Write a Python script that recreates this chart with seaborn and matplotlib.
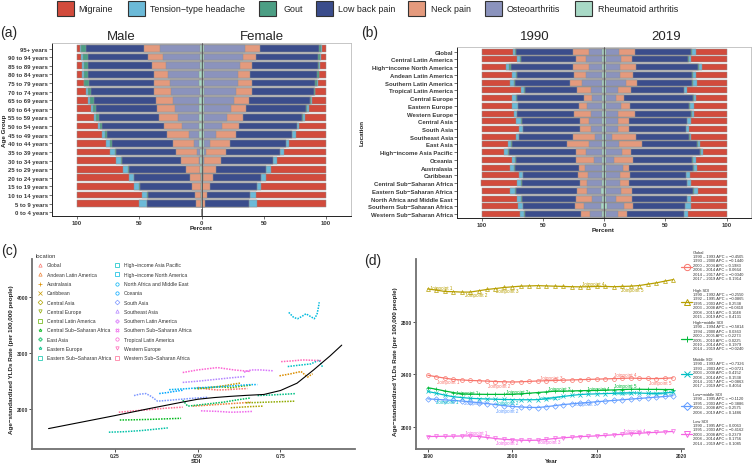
import numpy as np
import matplotlib
matplotlib.use("Agg")
import matplotlib.pyplot as plt
import seaborn as sns
from matplotlib.patches import Rectangle

sns.set_theme(style="white")
plt.rcParams['font.family'] = ['Liberation Sans', 'DejaVu Sans']

# ---------------- data ----------------
causes = ["Migraine", "Tension\u2212type headache", "Gout", "Low back pain",
          "Neck pain", "Osteoarthritis", "Rheumatoid arthritis"]
cause_colors = ["#D24B3C", "#6CBAD8", "#4C9E84", "#3B4D8C", "#E49A7D", "#8B93BD", "#A8D9C6"]

ages = ["95+ years", "90 to 94 years", "85 to 89 years", "80 to 84 years", "75 to 79 years",
        "70 to 74 years", "65 to 69 years", "60 to 64 years", "55 to 59 years", "50 to 54 years",
        "45 to 49 years", "40 to 44 years", "35 to 39 years", "30 to 34 years", "25 to 29 years",
        "20 to 24 years", "15 to 19 years", "10 to 14 years", "5 to 9 years", "0 to 4 years"]

# percent share per cause (order of `causes`), one row per age group
male_pct = [
    [2.5, 0.5, 4.5, 46.5, 13.0, 31.5, 1.5],
    [3.5, 1.0, 4.0, 48.7, 11.8, 29.5, 1.5],
    [4.0, 1.3, 3.2, 52.0, 10.7, 27.3, 1.5],
    [4.3, 1.1, 3.2, 53.5, 11.0, 25.2, 1.7],
    [5.4, 0.5, 3.5, 52.7, 12.3, 23.9, 1.7],
    [7.0, 1.6, 2.7, 50.9, 13.4, 22.8, 1.6],
    [8.6, 1.6, 3.2, 49.8, 13.6, 21.2, 2.0],
    [11.2, 1.6, 2.7, 48.8, 14.1, 19.6, 2.0],
    [13.9, 1.6, 2.4, 48.2, 14.8, 17.1, 2.0],
    [16.6, 2.1, 1.6, 49.3, 14.9, 13.8, 1.7],
    [20.1, 2.7, 1.3, 48.2, 17.4, 8.6, 1.7],
    [23.6, 3.2, 1.3, 48.7, 16.9, 4.6, 1.7],
    [26.8, 4.0, 0.8, 48.2, 16.6, 2.0, 1.6],
    [31.6, 3.7, 1.1, 47.4, 14.5, 0.4, 1.3],
    [36.9, 3.8, 0.8, 46.1, 11.2, 0.2, 1.0],
    [41.8, 3.7, 0.6, 44.4, 8.7, 0.0, 0.8],
    [46.1, 3.7, 0.5, 42.1, 7.1, 0.0, 0.5],
    [52.2, 4.3, 0.2, 38.3, 4.8, 0.0, 0.2],
    [49.5, 6.7, 0.0, 39.6, 4.0, 0.0, 0.2],
    [0, 0, 0, 0, 0, 0, 0],
]
female_pct = [
    [3.1, 0.7, 2.0, 47.4, 11.5, 33.4, 1.9],
    [4.2, 0.6, 1.8, 49.8, 10.1, 31.6, 1.9],
    [5.0, 0.5, 1.1, 52.7, 9.4, 29.4, 1.9],
    [5.5, 0.5, 1.1, 53.6, 10.1, 27.3, 1.9],
    [6.6, 0.7, 1.2, 51.3, 11.0, 27.3, 1.9],
    [8.5, 0.7, 0.6, 50.0, 12.9, 25.4, 1.9],
    [11.1, 1.3, 0.6, 48.7, 12.3, 24.1, 1.9],
    [13.8, 1.6, 0.5, 48.0, 12.8, 21.4, 1.9],
    [17.3, 1.5, 0.4, 47.3, 13.4, 18.2, 1.9],
    [21.6, 1.8, 0.3, 45.8, 13.9, 14.7, 1.9],
    [24.5, 2.5, 0.2, 45.5, 15.3, 10.1, 1.9],
    [29.9, 2.5, 0.1, 44.8, 15.5, 5.3, 1.9],
    [33.9, 3.1, 0.1, 43.6, 15.3, 2.1, 1.9],
    [39.2, 3.1, 0.1, 42.3, 13.3, 0.5, 1.5],
    [44.6, 3.9, 0.1, 39.4, 10.6, 0.2, 1.2],
    [48.6, 4.0, 0.0, 38.3, 8.0, 0.1, 1.0],
    [52.1, 3.7, 0.0, 37.5, 6.1, 0.0, 0.6],
    [56.6, 4.1, 0.0, 34.8, 4.2, 0.0, 0.3],
    [55.3, 6.7, 0.0, 34.8, 3.1, 0.0, 0.1],
    [0, 0, 0, 0, 0, 0, 0],
]

regions = ["Global", "Central Latin America", "High\u2212income North America", "Andean Latin America",
           "Southern Latin America", "Tropical Latin America", "Central Europe", "Eastern Europe",
           "Western Europe", "Central Asia", "South Asia", "Southeast Asia", "East Asia",
           "High\u2212income Asia Pacific", "Oceania", "Australasia", "Caribbean",
           "Central Sub\u2212Saharan Africa", "Eastern Sub\u2212Saharan Africa", "North Africa and Middle East",
           "Southern Sub\u2212Saharan Africa", "Western Sub\u2212Saharan Africa"]
pct_1990 = [
    [25.9, 1.8, 0.3, 46.8, 12.8, 11.0, 1.4],
    [28.6, 2.9, 0.4, 44.9, 8.2, 13.0, 2.0],
    [20.4, 2.3, 1.0, 50.6, 13.3, 10.4, 2.0],
    [24.5, 3.7, 0.4, 46.8, 9.6, 13.3, 1.7],
    [23.1, 3.6, 0.5, 45.1, 9.7, 16.6, 1.4],
    [31.9, 3.1, 0.4, 42.8, 10.8, 9.6, 1.4],
    [24.5, 3.6, 0.5, 55.0, 6.8, 8.2, 1.4],
    [24.5, 5.0, 0.4, 49.6, 6.3, 12.8, 1.4],
    [26.4, 2.2, 0.5, 46.3, 13.6, 9.6, 1.4],
    [28.0, 4.3, 0.4, 47.7, 7.2, 11.0, 1.4],
    [30.7, 3.0, 0.3, 46.4, 8.6, 9.6, 1.4],
    [28.0, 2.4, 0.3, 43.6, 18.7, 5.6, 1.4],
    [21.8, 2.3, 0.4, 44.9, 18.2, 11.0, 1.4],
    [18.5, 3.2, 0.9, 54.2, 8.2, 13.6, 1.4],
    [25.0, 2.6, 0.4, 48.8, 15.0, 6.8, 1.4],
    [23.1, 3.3, 0.8, 52.3, 4.7, 14.4, 1.4],
    [30.7, 2.9, 0.4, 44.7, 8.1, 11.8, 1.4],
    [28.6, 3.7, 0.4, 47.7, 5.9, 12.3, 1.4],
    [23.1, 4.5, 0.4, 49.6, 8.2, 11.4, 2.8],
    [29.1, 3.2, 0.4, 44.1, 13.6, 8.2, 1.4],
    [29.9, 3.7, 0.4, 42.0, 7.6, 13.6, 2.8],
    [31.3, 3.7, 0.4, 45.5, 7.6, 10.1, 1.4],
]
pct_2019 = [
    [25.1, 3.1, 0.4, 46.3, 12.8, 10.9, 1.4],
    [28.6, 2.4, 0.4, 45.4, 9.6, 12.2, 1.4],
    [19.6, 2.6, 1.0, 50.9, 12.8, 11.7, 1.4],
    [25.1, 2.3, 0.4, 48.2, 10.9, 11.7, 1.4],
    [23.7, 3.6, 0.5, 44.9, 9.5, 16.4, 1.4],
    [32.4, 2.3, 0.4, 43.1, 10.3, 10.1, 1.4],
    [25.1, 1.4, 0.5, 56.6, 6.8, 8.2, 1.4],
    [26.4, 3.7, 0.4, 48.2, 7.7, 12.2, 1.4],
    [26.4, 1.7, 0.5, 46.3, 13.6, 10.1, 1.4],
    [28.6, 3.4, 0.4, 47.2, 8.9, 10.1, 1.4],
    [30.5, 2.4, 0.3, 46.4, 8.9, 10.1, 1.4],
    [28.6, 1.6, 0.3, 43.6, 19.0, 5.5, 1.4],
    [21.6, 1.7, 0.4, 44.9, 19.1, 10.9, 1.4],
    [18.8, 1.9, 0.9, 56.0, 7.4, 13.6, 1.4],
    [25.1, 2.3, 0.4, 48.2, 15.8, 6.8, 1.4],
    [23.7, 2.5, 0.8, 52.6, 4.6, 14.4, 1.4],
    [29.7, 3.1, 0.4, 45.5, 8.2, 11.7, 1.4],
    [28.6, 3.4, 0.4, 47.2, 7.3, 11.7, 1.4],
    [23.2, 3.4, 0.4, 49.8, 9.6, 12.2, 1.4],
    [29.1, 2.9, 0.4, 44.4, 13.6, 8.2, 1.4],
    [29.1, 4.6, 0.4, 41.9, 7.6, 13.7, 2.7],
    [31.4, 3.3, 0.4, 46.3, 7.1, 10.1, 1.4],
]

# panel (c): SDI vs age-standardised YLD rate
sdi_locations = ["Global", "Andean Latin America", "Australasia", "Caribbean", "Central Asia",
                 "Central Europe", "Central Latin America", "Central Sub\u2212Saharan Africa", "East Asia",
                 "Eastern Europe", "Eastern Sub\u2212Saharan Africa", "High\u2212income Asia Pacific",
                 "High\u2212income North America", "North Africa and Middle East", "Oceania", "South Asia",
                 "Southeast Asia", "Southern Latin America", "Southern Sub\u2212Saharan Africa",
                 "Tropical Latin America", "Western Europe", "Western Sub\u2212Saharan Africa"]
loc_sdi = [
    [0.50, 0.53, 0.56, 0.59, 0.62, 0.65],
    [0.485, 0.53, 0.58, 0.62, 0.661],
    [0.747, 0.78, 0.812, 0.832, 0.847],
    [0.50, 0.54, 0.58, 0.61, 0.63],
    [0.60, 0.63, 0.66, 0.696],
    [0.646, 0.69, 0.74, 0.792],
    [0.49, 0.53, 0.57, 0.60, 0.63, 0.66],
    [0.265, 0.30, 0.35, 0.40, 0.45],
    [0.455, 0.47, 0.52, 0.58, 0.62, 0.661],
    [0.681, 0.72, 0.76, 0.797],
    [0.232, 0.28, 0.33, 0.37, 0.41],
    [0.772, 0.80, 0.842, 0.867, 0.877],
    [0.775, 0.79, 0.802, 0.815, 0.827, 0.84, 0.852, 0.86, 0.864, 0.867],
    [0.414, 0.46, 0.51, 0.56, 0.61, 0.661, 0.68],
    [0.384, 0.41, 0.43, 0.455],
    [0.308, 0.325, 0.344, 0.36, 0.379, 0.42, 0.47, 0.53],
    [0.455, 0.50, 0.55, 0.60, 0.645],
    [0.64, 0.661, 0.69, 0.727],
    [0.51, 0.56, 0.60, 0.63, 0.666],
    [0.455, 0.50, 0.56, 0.61, 0.661],
    [0.752, 0.785, 0.817, 0.85, 0.873],
    [0.262, 0.30, 0.35, 0.40, 0.455],
]
loc_rate = [
    [2390, 2360, 2345, 2350, 2362, 2370],
    [2058, 2075, 2095, 2110, 2128],
    [2596, 2630, 2672, 2574, 2632],
    [2362, 2390, 2420, 2450, 2468],
    [2029, 2040, 2050, 2058],
    [2117, 2125, 2135, 2146],
    [2370, 2385, 2400, 2385, 2410, 2430],
    [1812, 1815, 1822, 1832, 1842],
    [2163, 2058, 2090, 2130, 2170, 2204],
    [2246, 2255, 2268, 2281],
    [1596, 1605, 1625, 1648, 1672],
    [2760, 2780, 2807, 2877, 2749],
    [3720, 3630, 3608, 3650, 3696, 3650, 3608, 3680, 3790, 3900],
    [2350, 2365, 2385, 2400, 2420, 2440, 2440],
    [2281, 2300, 2320, 2340],
    [2245, 2270, 2281, 2230, 2146, 2165, 2190, 2215],
    [2479, 2500, 2530, 2560, 2584],
    [2660, 2700, 2700, 2685],
    [1975, 1965, 1950, 1955, 1965],
    [2654, 2700, 2742, 2700, 2672],
    [2847, 2860, 2877, 2870, 2865],
    [1950, 1970, 1995, 2020, 2040],
]
curve_sdi = [0.05, 0.15, 0.25, 0.35, 0.45, 0.50, 0.55, 0.60, 0.65, 0.70, 0.75, 0.80, 0.85, 0.90, 0.935]
curve_rate = [1660, 1775, 1890, 2010, 2125, 2180, 2210, 2232, 2250, 2265, 2335, 2465, 2700, 2950, 3140]

# panel (d): joinpoint trends by SDI quintile
years = list(range(1990, 2020))
sdi_groups = ["Global", "High SDI", "High\u2212middle SDI", "Middle SDI", "Low\u2212middle SDI", "Low SDI"]
rate_global = [2392, 2380, 2370, 2360, 2356, 2352, 2350, 2347, 2344, 2342, 2340, 2342, 2345, 2348, 2350,
               2352, 2354, 2356, 2358, 2360, 2362, 2364, 2366, 2368, 2370, 2368, 2367, 2366, 2368, 2372]
rate_high = [3049, 3040, 3030, 3028, 3025, 3025, 3035, 3045, 3052, 3060, 3065, 3070, 3072, 3074, 3072,
             3070, 3068, 3066, 3065, 3066, 3068, 3068, 3066, 3068, 3070, 3075, 3085, 3095, 3108, 3120]
rate_highmid = [2297, 2285, 2272, 2260, 2250, 2248, 2247, 2246, 2246, 2246, 2246, 2250, 2255, 2260, 2265,
                2270, 2270, 2272, 2274, 2275, 2276, 2278, 2280, 2283, 2285, 2285, 2284, 2284, 2283, 2283]
rate_mid = [2268, 2255, 2240, 2228, 2222, 2216, 2213, 2211, 2209, 2207, 2206, 2205, 2205, 2206, 2213,
            2222, 2230, 2238, 2245, 2248, 2250, 2252, 2254, 2256, 2258, 2256, 2254, 2252, 2256, 2262]
rate_lowmid = [2212, 2208, 2204, 2200, 2195, 2190, 2183, 2176, 2168, 2160, 2154, 2150, 2147, 2146, 2152,
               2160, 2168, 2174, 2180, 2185, 2190, 2195, 2200, 2205, 2210, 2215, 2220, 2225, 2230, 2236]
rate_low = [1925, 1926, 1927, 1928, 1929, 1930, 1925, 1918, 1910, 1904, 1900, 1897, 1896, 1897, 1903,
            1910, 1915, 1920, 1924, 1927, 1930, 1934, 1938, 1942, 1946, 1950, 1954, 1957, 1960, 1964]

apc_text = [
    ["1990 \u2013 1993 APC = \u22120.4505", "1993 \u2013 2000 APC = \u22120.1440", "2000 \u2013 2004 APC = 0.1983",
     "2004 \u2013 2014 APC = 0.0664", "2014 \u2013 2017 APC = \u22120.0340", "2017 \u2013 2019 APC = 0.1914"],
    ["1990 \u2013 1992 APC = \u22120.2550", "1992 \u2013 1995 APC = \u22120.0865", "1995 \u2013 2003 APC = 0.2538",
     "2003 \u2013 2008 APC = \u22120.0410", "2008 \u2013 2015 APC = 0.1048", "2015 \u2013 2019 APC = 0.4131"],
    ["1990 \u2013 1994 APC = \u22120.5814", "1994 \u2013 2000 APC = 0.0363", "2000 \u2013 2005 APC = 0.2273",
     "2005 \u2013 2010 APC = 0.0225", "2010 \u2013 2014 APC = 0.1979", "2014 \u2013 2019 APC = \u22120.0240"],
    ["1990 \u2013 1993 APC = \u22120.7326", "1993 \u2013 2003 APC = \u22120.0721", "2003 \u2013 2008 APC = 0.4152",
     "2008 \u2013 2014 APC = 0.1538", "2014 \u2013 2017 APC = \u22120.0863", "2017 \u2013 2019 APC = 0.4054"],
    ["1990 \u2013 1995 APC = \u22120.1120", "1995 \u2013 2003 APC = \u22120.3886", "2003 \u2013 2008 APC = 0.2575",
     "2008 \u2013 2019 APC = 0.1486"],
    ["1990 \u2013 1995 APC = 0.0063", "1995 \u2013 2003 APC = \u22120.4162", "2003 \u2013 2008 APC = 0.2379",
     "2008 \u2013 2014 APC = 0.1756", "2014 \u2013 2019 APC = 0.1085"],
]

# label anchors (year, rate) for the joinpoint tags
jp_year = [[1992.4, 1998.4, 2004.6, 2013.3, 2017.5],
           [1991.6, 1995.7, 1999.4, 2009.6, 2014.2],
           [1994.7, 2000.6, 2005.6, 2010.2, 2013.3],
           [1992.3, 1999.4, 2004.4, 2013.3, 2017.5],
           [1995.6, 1999.4, 2008.6],
           [1995.7, 1999.4, 2004.4, 2014.4]]
jp_rate = [[2346, 2313, 2377, 2394, 2333],
           [3057, 3006, 3036, 3087, 3044],
           [2262, 2267, 2293, 2293, 2313],
           [2194, 2181, 2224, 2257, 2257],
           [2186, 2122, 2173],
           [1952, 1876, 1889, 1970]]


def hue_pal(n, c=100.0, l=65.0):
    # ggplot2-style evenly spaced HCL hues
    out = []
    Xn, Yn, Zn = 95.047, 100.0, 108.883
    un = 4 * Xn / (Xn + 15 * Yn + 3 * Zn)
    vn = 9 * Yn / (Xn + 15 * Yn + 3 * Zn)
    for h in np.linspace(15, 375, n + 1)[:n]:
        u = c * np.cos(np.radians(h))
        v = c * np.sin(np.radians(h))
        Y = Yn * ((l + 16) / 116) ** 3
        up = u / (13 * l) + un
        vp = v / (13 * l) + vn
        X = Y * 9 * up / (4 * vp)
        Z = Y * (12 - 3 * up - 20 * vp) / (4 * vp)
        X, Y2, Z = X / 100, Y / 100, Z / 100
        rgb = [3.2406 * X - 1.5372 * Y2 - 0.4986 * Z,
               -0.9689 * X + 1.8758 * Y2 + 0.0415 * Z,
               0.0557 * X - 0.2040 * Y2 + 1.0570 * Z]
        rgb = [1.055 * ch ** (1 / 2.4) - 0.055 if ch > 0.0031308 else 12.92 * ch for ch in np.clip(rgb, 0, 1)]
        out.append(tuple(np.clip(rgb, 0, 1)))
    return out


loc_colors = hue_pal(len(sdi_locations))
grp_colors = hue_pal(len(sdi_groups))
loc_markers = ["^", "^", "+", "x", "D", "v", "s", "*", "P", "*", "s", "s", "s", "o", "o", "D",
               "^", "P", "X", "o", "v", "s"]
grp_markers = ["o", "^", "+", "x", "D", "v"]

# ---------------- figure ----------------
W, H = 752, 464
fig = plt.figure(figsize=(W / 100, H / 100), dpi=100)


def box(l, t, r, b):
    return [l / W, 1 - b / H, (r - l) / W, (b - t) / H]


ax_a = fig.add_axes(box(52, 44, 351, 217))
ax_b = fig.add_axes(box(457, 48, 751, 219))
ax_c = fig.add_axes(box(32, 260, 355, 450))
ax_d = fig.add_axes(box(416, 260, 684, 450))


def pyramid(ax, labels, left_rows, right_rows, ylim):
    # cumulative share counted outward from the centre line
    left_cum = np.cumsum(np.array(left_rows, float)[:, ::-1], axis=1)
    right_cum = np.cumsum(np.array(right_rows, float)[:, ::-1], axis=1)
    for k in range(6, -1, -1):
        col = cause_colors[6 - k]
        for sign, cum in ((-1, left_cum), (1, right_cum)):
            sns.barplot(x=sign * cum[:, k], y=labels, orient="h", color=col, saturation=1,
                        width=0.78, edgecolor="#8f8f8f", linewidth=0.35, errorbar=None, ax=ax)
    ax.axvline(0, color="#505050", lw=0.6, zorder=6)
    ax.set_xlim(-120, 120)
    ax.set_ylim(*ylim)
    ax.set_xticks([-100, -50, 0, 50, 100])
    ax.set_xticklabels(["100", "50", "0", "50", "100"])
    ax.set_xlabel("")
    ax.set_ylabel("")
    ax.tick_params(axis="both", length=2, width=0.5, pad=1, labelsize=4.3, colors="#3a3a3a",
                   bottom=True, left=True)
    for lab in ax.get_xticklabels() + ax.get_yticklabels():
        lab.set_fontweight("bold")
    for s in ("left", "bottom"):
        ax.spines[s].set_color("#222222")
        ax.spines[s].set_linewidth(0.7)
    for s in ("top", "right"):
        ax.spines[s].set_color("#bdbdbd")
        ax.spines[s].set_linewidth(0.6)


pyramid(ax_a, ages, male_pct, female_pct, (19.43, -0.64))
pyramid(ax_b, regions, pct_1990, pct_2019, (21.52, -0.61))

# panel (c)
for i, loc in enumerate(sdi_locations):
    sns.lineplot(x=loc_sdi[i], y=loc_rate[i], sort=False, estimator=None, color=loc_colors[i],
                 lw=1.1, linestyle=(0, (1.0, 0.8)), ax=ax_c)
sns.lineplot(x=curve_sdi, y=curve_rate, sort=False, estimator=None, color="black", lw=0.8, ax=ax_c)
ax_c.set_xlim(0.0, 0.975)
ax_c.set_ylim(1298, 4667)
ax_c.set_xticks([0.25, 0.50, 0.75])
ax_c.set_xticklabels(["0.25", "0.50", "0.75"])
ax_c.set_yticks([2000, 3000, 4000])

# panel (d)
d_series = [rate_global, rate_high, rate_highmid, rate_mid, rate_lowmid, rate_low]
for i, vals in enumerate(d_series):
    sns.lineplot(x=years, y=vals, color=grp_colors[i], lw=0.9, ax=ax_d)
    ax_d.plot(years, vals, ls="none", marker=grp_markers[i], ms=2.8, mfc="none",
              mec=grp_colors[i], mew=0.5)
    for k, (yy, rr) in enumerate(zip(jp_year[i], jp_rate[i])):
        ax_d.text(yy, rr, f"Joinpoint {k + 1}", color=grp_colors[i], fontsize=3.3,
                  ha="center", va="center")
ax_d.set_xlim(1988.6, 2020.3)
ax_d.set_ylim(1830, 3277)
ax_d.set_xticks([1990, 2000, 2010, 2020])
ax_d.set_yticks([2000, 2400, 2800])

for ax in (ax_c, ax_d):
    ax.set_xlabel("")
    ax.set_ylabel("")
    for s in ("top", "right"):
        ax.spines[s].set_visible(False)
    for s in ("left", "bottom"):
        ax.spines[s].set_color("#707070")
        ax.spines[s].set_linewidth(1.3)
    ax.tick_params(axis="both", length=2, width=0.6, pad=0.6, labelsize=3.6, colors="#333333",
                   bottom=True, left=True)
    for lab in ax.get_xticklabels() + ax.get_yticklabels():
        lab.set_fontweight("bold")

# ---------------- free text / legends (pixel overlay) ----------------
ov = fig.add_axes([0, 0, 1, 1])
ov.set_xlim(0, W)
ov.set_ylim(H, 0)
ov.axis("off")

# top legend
patch_x = [57, 128, 259, 316, 408, 485, 575]
text_x = [78, 150, 283, 338, 431, 507, 598]
for px, tx, lab, col in zip(patch_x, text_x, causes, cause_colors):
    ov.add_patch(Rectangle((px, 2), 17, 15, facecolor=col, edgecolor="#333333", lw=0.8))
    ov.text(tx, 9.8, lab, fontsize=6.4, va="center", ha="left", color="#222222")

for lab, x, y in [("(a)", 9, 33), ("(b)", 370, 33), ("(c)", 9, 251), ("(d)", 373, 261)]:
    ov.text(x, y, lab, fontsize=10, ha="center", va="center")
for lab, x in [("Male", 121), ("Female", 262), ("1990", 535), ("2019", 666)]:
    ov.text(x, 37, lab, fontsize=9.5, ha="center", va="center")

bold = dict(fontsize=4.5, fontweight="bold", color="#222222", ha="center", va="center")
ov.text(5, 131, "Age Group", rotation=90, **bold)
ov.text(362, 133, "Location", rotation=90, **bold)
ov.text(201, 228.5, "Percent", **bold)
ov.text(603, 230.5, "Percent", **bold)
ov.text(12, 360, "Age\u2212standardized YLDs Rate (per 100,000 people)", rotation=90, **bold)
ov.text(396, 362, "Age\u2212standardized YLDs Rate (per 100,000 people)", rotation=90, **bold)
ov.text(196, 461.5, "SDI", **bold)
ov.text(551, 461.5, "Year", **bold)

# legend of panel (c)
ov.text(36, 257, "location", fontsize=4.2, color="#333333", ha="left", va="center")
for i, loc in enumerate(sdi_locations):
    col_i, row_i = divmod(i, 11)
    mx = 40 if col_i == 0 else 117
    my = 266 + row_i * 9.27
    ov.plot([mx], [my], marker=loc_markers[i], ms=2.4, mfc="none", mec=loc_colors[i], mew=0.5)
    ov.text(mx + 7, my, loc, fontsize=3.6, color="#333333", ha="left", va="center")

# legend of panel (d)
block_top = [252.7, 290.7, 323.0, 360.0, 395.0, 421.7]
marker_y = [268, 303.3, 340, 375, 406.7, 435]
for i, grp in enumerate(sdi_groups):
    lines = [grp] + apc_text[i]
    for j, t in enumerate(lines):
        ov.text(693, block_top[i] + j * 4.4, t, fontsize=2.9, color="#333333", ha="left", va="center")
    ov.plot([681, 692], [marker_y[i]] * 2, color=grp_colors[i], lw=0.9)
    ov.plot([686.5], [marker_y[i]], marker=grp_markers[i], ms=4.5, mfc="none",
            mec=grp_colors[i], mew=0.7)

fig.savefig("out.png", dpi=100)
